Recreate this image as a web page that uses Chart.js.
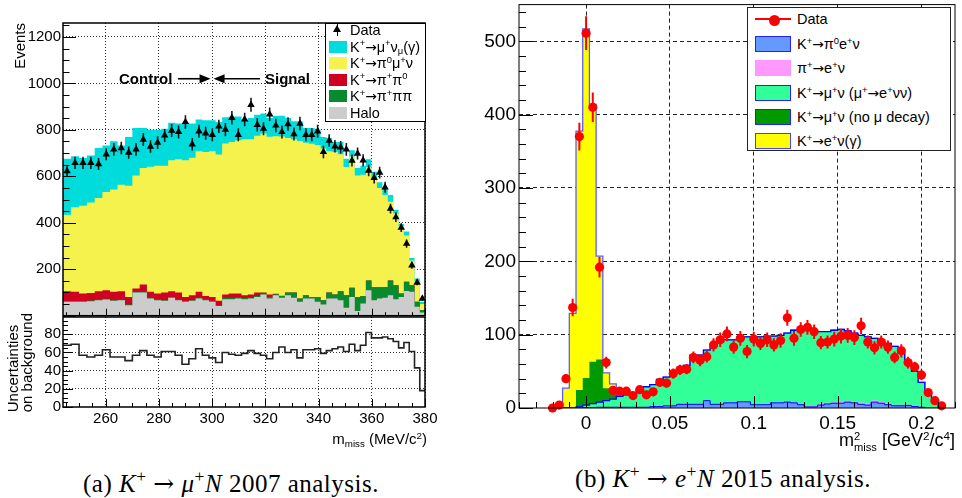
<!DOCTYPE html>
<html>
<head>
<meta charset="utf-8">
<title>Missing mass spectra: K+ to mu+ N (2007) and K+ to e+ N (2015)</title>
<script src="https://cdn.jsdelivr.net/npm/chart.js@4.4.1/dist/chart.umd.min.js"></script>
<style>
  body { margin: 0; width: 962px; height: 498px; position: relative; overflow: hidden; background: #fff;
         font-family: "Liberation Sans", Arial, sans-serif; color: #000; }
  canvas { position: absolute; }
  .txt { position: absolute; white-space: nowrap; line-height: 1; }
  .vert { writing-mode: vertical-rl; transform: rotate(180deg); }
  sup, sub { font-size: 0.65em; line-height: 0; position: relative; vertical-align: baseline; }
  sup { top: -0.55em; }
  sub { top: 0.3em; }
  .ar { font-family: "DejaVu Sans", sans-serif; font-size: 0.95em; }
  .box { position: absolute; background: #fff; box-sizing: border-box; }
  .sw { position: absolute; box-sizing: border-box; }
  .lab { position: absolute; white-space: nowrap; line-height: 1; font-size: 14.5px; transform: translateY(-50%); }
  .cap { position: absolute; white-space: nowrap; font-family: "Liberation Serif", "Times New Roman", serif;
         font-size: 25px; letter-spacing: 0.5px; transform: translate(-50%, -50%); line-height: 1; }
  .cap sup { font-size: 0.7em; }
  .cap .ar { font-family: "DejaVu Serif", serif; font-size: 1em; }
</style>
</head>
<body>
<canvas id="cTop" width="440" height="320" style="left:0;top:0"></canvas>
<canvas id="cLow" width="440" height="140" style="left:0;top:310px"></canvas>
<canvas id="cRight" width="482" height="440" style="left:480px;top:0"></canvas>

<!-- left panel texts -->
<div class="txt vert" style="left:12px;top:23px;font-size:15px">Events</div>
<div class="txt vert" style="left:6px;top:313px;font-size:15px;line-height:14px">Uncertainties<br>on background</div>
<div class="txt" style="right:535px;top:431px;font-size:15px">m<sub>miss</sub> (MeV/c<sup>2</sup>)</div>
<div class="txt" style="left:119px;top:71px;font-size:15px;font-weight:bold">Control</div>
<div class="txt" style="left:265px;top:71px;font-size:15px;font-weight:bold">Signal</div>

<!-- left legend -->
<div class="box" style="left:325px;top:23px;width:101px;height:99px;border:1px solid #000"></div>
<div class="sw" style="left:333px;top:25px;width:0;height:0;border-left:4px solid transparent;border-right:4px solid transparent;border-bottom:7px solid #000"></div>
<div class="sw" style="left:336.5px;top:24px;width:1.5px;height:12px;background:#000"></div>
<div class="lab" style="left:350px;top:30px">Data</div>
<div class="sw" style="left:329px;top:40.5px;width:18px;height:12px;background:#00dcdc"></div>
<div class="lab" style="left:350px;top:46.5px">K<sup>+</sup><span class="ar">→</span>μ<sup>+</sup>ν<sub>μ</sub>(γ)</div>
<div class="sw" style="left:329px;top:57px;width:18px;height:12px;background:#f5f24e"></div>
<div class="lab" style="left:350px;top:63px">K<sup>+</sup><span class="ar">→</span>π<sup>0</sup>μ<sup>+</sup>ν</div>
<div class="sw" style="left:329px;top:73.5px;width:18px;height:12px;background:#cf0020"></div>
<div class="lab" style="left:350px;top:79.5px">K<sup>+</sup><span class="ar">→</span>π<sup>+</sup>π<sup>0</sup></div>
<div class="sw" style="left:329px;top:90px;width:18px;height:12px;background:#0a8a2e"></div>
<div class="lab" style="left:350px;top:96px">K<sup>+</sup><span class="ar">→</span>π<sup>+</sup>ππ</div>
<div class="sw" style="left:329px;top:106.5px;width:18px;height:12px;background:#cccccc"></div>
<div class="lab" style="left:350px;top:112.5px">Halo</div>

<!-- right panel texts -->
<div class="txt" style="right:7px;top:431px;font-size:18px">m<span style="display:inline-block;vertical-align:-0.42em;font-size:0.62em;line-height:0.95;text-align:left">2<br>miss</span> [GeV<sup>2</sup>/c<sup>4</sup>]</div>

<!-- right legend -->
<div class="box" style="left:747px;top:7px;width:204px;height:144px;border:1px solid #222"></div>
<div class="sw" style="left:755px;top:18.3px;width:36px;height:2px;background:#ff0000"></div>
<div class="sw" style="left:768.5px;top:14.8px;width:11px;height:11px;border-radius:50%;background:#ff0000"></div>
<div class="lab" style="left:797px;top:19.3px">Data</div>
<div class="sw" style="left:755px;top:36px;width:36px;height:16px;background:#6699ff;border:1.5px solid #2222ff"></div>
<div class="lab" style="left:797px;top:44px">K<sup>+</sup><span class="ar">→</span>π<sup>0</sup>e<sup>+</sup>ν</div>
<div class="sw" style="left:755px;top:60.3px;width:36px;height:16px;background:#ff99ff;border:1px solid #ff99ff"></div>
<div class="lab" style="left:797px;top:68.3px">π<sup>+</sup><span class="ar">→</span>e<sup>+</sup>ν</div>
<div class="sw" style="left:755px;top:84.7px;width:36px;height:16px;background:#33ff99;border:1.5px solid #2222ff"></div>
<div class="lab" style="left:797px;top:92.7px">K<sup>+</sup><span class="ar">→</span>μ<sup>+</sup>ν (μ<sup>+</sup><span class="ar">→</span>e<sup>+</sup>νν)</div>
<div class="sw" style="left:755px;top:108.7px;width:36px;height:16px;background:#009900;border:1.5px solid #2222ff"></div>
<div class="lab" style="left:797px;top:116.7px">K<sup>+</sup><span class="ar">→</span>μ<sup>+</sup>ν (no μ decay)</div>
<div class="sw" style="left:755px;top:133px;width:36px;height:16px;background:#ffff00;border:1.5px solid #4444ff"></div>
<div class="lab" style="left:797px;top:141px">K<sup>+</sup><span class="ar">→</span>e<sup>+</sup>ν(γ)</div>

<!-- captions -->
<div class="cap" style="left:231px;top:483px">(a) <i>K</i><sup>+</sup> <span class="ar">→</span> <i>μ</i><sup>+</sup><i>N</i> 2007 analysis.</div>
<div class="cap" style="left:723px;top:478px">(b) <i>K</i><sup>+</sup> <span class="ar">→</span> <i>e</i><sup>+</sup><i>N</i> 2015 analysis.</div>

<script>
// ---- (a) K+ -> mu+ N, 2007: m_miss in MeV/c^2, 57 bins uniform in m^2 between 244 and 380
const massLo = 244, massHi = 380, nMassBins = 57;
const signalCut = 300;          // control | signal boundary
const arrowLevel = 1020;        // height of the control/signal arrows (events)

const dataL = [623, 658, 658, 658, 653, 695, 716, 722, 702, 716, 758, 728, 745, 776, 797, 791, 834, 738, 794, 785,
               779, 815, 801, 852, 779, 845, 908, 822, 805, 867, 819, 791, 825, 782, 827, 779, 779, 794, 705, 754,
               729, 725, 716, 668, 698, 669, 625, 593, 616, 553, 461, 424, 379, 310, 217, 143, 74];
const errL = [25, 26, 26, 26, 26, 26, 27, 27, 26, 27, 28, 27, 27, 28, 28, 28, 29, 27, 28, 28,
              28, 29, 28, 29, 28, 29, 30, 29, 28, 29, 29, 28, 29, 28, 29, 28, 28, 28, 27, 27,
              27, 27, 27, 26, 26, 26, 25, 24, 25, 24, 21, 21, 19, 18, 15, 12, 9];
const haloL = [60, 60, 60, 62, 67, 70, 64, 67, 45, 100, 100, 74, 67, 64, 77, 67, 60, 64, 74, 67,
               60, 42, 71, 71, 74, 71, 74, 81, 91, 74, 88, 77, 88, 77, 60, 74, 74, 60, 48, 74,
               74, 67, 34, 81, 20, 52, 110, 67, 74, 77, 88, 71, 81, 106, 103, 38, 14];
const k3piL = [3, 3, 3, 3, 3, 3, 3, 3, 3, 3, 3, 3, 3, 3, 3, 3, 3, 3, 3, 3,
               3, 3, 6, 6, 4, 6, 4, 4, 4, 6, 4, 8, 12, 23, 14, 14, 7, 21, 19, 26,
               17, 38, 54, 39, 60, 33, 41, 57, 50, 47, 63, 60, 15, 40, 28, 22, 10];
const k2piL = [42, 40, 33, 33, 35, 37, 36, 35, 33, 14, 31, 26, 26, 33, 25, 30, 18, 21, 26, 15,
               18, 19, 14, 19, 18, 11, 13, 15, 5, 11, 2, 1, 0, 0, 0, 0, 0, 0, 0, 0,
               0, 0, 0, 0, 0, 0, 0, 0, 0, 0, 0, 0, 0, 0, 0, 0, 0];
const kmu3L = [330, 364, 377, 389, 402, 423, 440, 459, 478, 487, 502, 538, 549, 545, 564, 573, 588, 592, 605, 620,
               627, 630, 650, 652, 659, 672, 669, 675, 684, 679, 678, 685, 665, 660, 678, 657, 659, 654, 653, 608,
               614, 590, 552, 565, 524, 522, 489, 461, 426, 396, 339, 309, 289, 199, 107, 88, 26];
const kmu2L = [241, 219, 206, 203, 215, 200, 208, 169, 210, 204, 172, 160, 156, 160, 162, 154, 158, 147, 137, 136,
               133, 140, 113, 110, 103, 85, 91, 90, 86, 81, 88, 90, 86, 77, 85, 63, 68, 67, 49, 57,
               43, 53, 36, 27, 32, 38, 33, 35, 25, 28, 30, 15, 10, 17, 10, 12, 10];
const uncL = [68, 69, 57, 55, 57, 63, 55, 55, 51, 57, 62, 57, 55, 61, 61, 57, 47, 53, 64, 57,
              54, 49, 60, 58, 57, 59, 62, 59, 57, 53, 60, 66, 60, 63, 54, 63, 63, 64, 59, 62,
              64, 66, 61, 69, 62, 68, 82, 76, 76, 77, 75, 72, 65, 71, 61, 43, 18];

// ---- (b) K+ -> e+ N, 2015: m^2_miss in GeV^2/c^4, bins of 0.004 centred on -0.020 ... 0.212
const m2First = -0.022, m2Width = 0.004, nM2Bins = 59;
const dataR = [0, 4, 40, 137, 370, 511, 410, 192, 62, 24, 23, 23, 17, 25, 18, 22, 35, 34, 47, 52,
               53, 69, 65, 70, 86, 93, 101, 83, 95, 77, 94, 88, 93, 86, 92, 123, 95, 107, 110, 104,
               89, 90, 94, 98, 99, 96, 112, 90, 82, 90, 83, 69, 78, 62, 56, 45, 21, 10, 3];
const errR = [0, 2, 6, 12, 19, 23, 20, 14, 8, 5, 5, 5, 4, 5, 4, 5, 6, 6, 7, 7,
              7, 8, 8, 8, 9, 10, 10, 9, 10, 9, 10, 9, 10, 9, 10, 11, 10, 10, 10, 10,
              9, 9, 10, 10, 10, 10, 11, 9, 9, 9, 9, 8, 9, 8, 7, 7, 5, 3, 2];
const ke3R = [0, 0, 0, 0, 0, 0.5, 0.5, 1, 1, 1, 1, 1, 1, 1, 1, 2, 2, 3, 3, 5,
              5, 5, 5, 10, 5, 5, 7, 7, 8.5, 8.5, 4.5, 4.5, 4.5, 7, 7, 8, 7, 4.5, 1.5, 1.5,
              4, 5.5, 6.5, 6.5, 8, 7, 5, 4, 8, 6.5, 4.5, 3, 3, 3.5, 2, 1, 0, 0, 0];
const pienuR = [0, 0, 0, 0, 0, 0, 0, 0, 0, 0, 0, 0, 0, 0, 0, 0, 0, 0, 0, 0,
                0, 0, 0, 0, 0, 0, 0, 0, 0, 0, 0, 0, 0, 0, 0, 1, 1, 1, 1, 1.5,
                1.5, 1.5, 1.5, 2, 2, 2, 2.5, 2.5, 2.5, 2, 2, 1.5, 1.5, 1, 1, 0.5, 0, 0, 0];
const kmuDecR = [0, 0, 0, 0, 1.5, 3.5, 5.5, 7, 9, 11, 15, 17, 19, 23, 28, 30, 37, 39, 46, 48,
                 53, 67, 67, 69, 79, 85, 86, 86, 88.5, 88.5, 91.5, 92.5, 93.5, 91, 92, 93, 98, 100.5, 103.5, 102,
                 98.5, 97, 98, 98.5, 95, 93, 91.5, 90.5, 84.5, 84.5, 81.5, 79.5, 70.5, 58.5, 47, 33.5, 20, 9, 2];
const kmuNoDecR = [0, 0, 0, 0, 23, 37, 57, 58, 17, 9, 0, 0, 0, 0, 0, 0, 0, 0, 0, 0,
                   0, 0, 0, 0, 0, 0, 0, 0, 0, 0, 0, 0, 0, 0, 0, 0, 0, 0, 0, 0,
                   0, 0, 0, 0, 0, 0, 0, 0, 0, 0, 0, 0, 0, 0, 0, 0, 0, 0, 0];
const kenuR = [0, 0, 27, 129, 353, 476, 351, 141, 21, 12, 0, 0, 0, 0, 0, 0, 0, 0, 0, 0,
               0, 0, 0, 0, 0, 0, 0, 0, 0, 0, 0, 0, 0, 0, 0, 0, 0, 0, 0, 0,
               0, 0, 0, 0, 0, 0, 0, 0, 0, 0, 0, 0, 0, 0, 0, 0, 0, 0, 0];

// ---- helpers
const edgesL = Array.from({length: nMassBins + 1},
  (_, k) => Math.sqrt(massLo * massLo + k * (massHi * massHi - massLo * massLo) / nMassBins));
const centersL = dataL.map((_, i) => (edgesL[i] + edgesL[i + 1]) / 2);
const edgesR = Array.from({length: nM2Bins + 1}, (_, k) => Math.round((m2First + k * m2Width) * 1e4) / 1e4);
const centersR = dataR.map((_, i) => (edgesR[i] + edgesR[i + 1]) / 2);

function histPts(edges, vals, closed) {
  const pts = closed ? [{x: edges[0], y: 0}] : [];
  vals.forEach((v, i) => pts.push({x: edges[i], y: v}));
  pts.push({x: edges[vals.length], y: vals[vals.length - 1]});
  if (closed) pts.push({x: edges[vals.length], y: 0});
  return pts;
}

// cumulative tops, bottom layer first
function stackUp(layers) {
  let run = layers[0].map(() => 0);
  return layers.map(l => (run = run.map((s, i) => s + l[i])));
}

function errBars(xs, vals, errs) {
  const pts = [];
  vals.forEach((v, i) => {
    pts.push({x: xs[i], y: v - errs[i]}, {x: xs[i], y: v + errs[i]}, {x: xs[i], y: null});
  });
  return pts;
}

function filled(data, color, order, line, lineWidth) {
  return {
    data, order, stepped: true, fill: 'origin', backgroundColor: color,
    borderColor: line || 'rgba(0,0,0,0)', borderWidth: line ? lineWidth : 0, pointRadius: 0
  };
}

// fixed axis sizes, and no extra room asked for by the end labels
function noPad(s) { s.paddingTop = 0; s.paddingBottom = 0; s.paddingLeft = 0; s.paddingRight = 0; }
const fixW = w => s => { s.width = w; noPad(s); };
const fixH = h => s => { s.height = h; noPad(s); };

const isMultiple = (v, step) => Math.abs(v / step - Math.round(v / step)) < 1e-6;

// ROOT style: ticks inside the frame, box round the pad
const rootAxes = {
  id: 'rootAxes',
  afterDatasetsDraw(chart, args, o) {
    const {ctx, chartArea: a, scales: {x, y}} = chart;
    ctx.save();
    ctx.strokeStyle = '#000';
    ctx.lineWidth = 1;
    ctx.beginPath();
    for (let i = 0; ; i++) {
      const v = o.xFrom + i * o.xMinor;
      if (v > x.max + 1e-9) break;
      const px = Math.round(x.getPixelForValue(v)) + 0.5;
      const len = isMultiple(v, o.xMajor) ? o.xLen : o.xLen / 2;
      ctx.moveTo(px, a.bottom);
      ctx.lineTo(px, a.bottom - len);
    }
    for (let i = 0; ; i++) {
      const v = o.yFrom + i * o.yMinor;
      if (v > y.max + 1e-9) break;
      const py = Math.round(y.getPixelForValue(v)) + 0.5;
      const len = isMultiple(v, o.yMajor) ? o.yLen : o.yLen / 2;
      ctx.moveTo(a.left, py);
      ctx.lineTo(a.left + len, py);
    }
    ctx.stroke();
    ctx.lineWidth = o.frame;
    ctx.strokeRect(a.left, a.top, a.width, a.height);
    ctx.restore();
  }
};

const cutArrows = {
  id: 'cutArrows',
  afterDatasetsDraw(chart) {
    const {ctx, scales: {x, y}} = chart;
    const xc = x.getPixelForValue(signalCut);
    const yy = y.getPixelForValue(arrowLevel);
    ctx.save();
    ctx.strokeStyle = '#000';
    ctx.fillStyle = '#000';
    ctx.lineWidth = 1.6;
    const arrow = (from, tip) => {
      const d = Math.sign(tip - from);
      ctx.beginPath();
      ctx.moveTo(from, yy);
      ctx.lineTo(tip - d * 8, yy);
      ctx.stroke();
      ctx.beginPath();
      ctx.moveTo(tip, yy);
      ctx.lineTo(tip - d * 11, yy - 4.5);
      ctx.lineTo(tip - d * 11, yy + 4.5);
      ctx.closePath();
      ctx.fill();
    };
    arrow(xc - 34, xc - 1.5);
    arrow(xc + 48, xc + 1.5);
    ctx.restore();
  }
};

Chart.defaults.font.family = '"Liberation Sans", Arial, sans-serif';
Chart.defaults.color = '#000';

const base = {
  responsive: false, animation: false, events: [], devicePixelRatio: 1,
  plugins: {legend: {display: false}, tooltip: {enabled: false}}
};
const noZero = c => (c.tick.value === 0 ? 'rgba(0,0,0,0)' : '#333');

// ---- (a) upper pad
const [cHalo, cK3pi, cK2pi, cKmu3, cKmu2] = stackUp([haloL, k3piL, k2piL, kmu3L, kmu2L]);
new Chart(document.getElementById('cTop'), {
  type: 'line',
  data: {
    datasets: [
      {data: dataL.map((v, i) => ({x: centersL[i], y: v})), order: 1, showLine: false, clip: false,
       pointStyle: 'triangle', pointRadius: 4.3, pointBackgroundColor: '#000', pointBorderColor: '#000', pointBorderWidth: 0},
      {data: errBars(centersL, dataL, errL), order: 2, borderColor: '#1a1a1a', borderWidth: 1.6, pointRadius: 0},
      filled(histPts(edgesL, cHalo, true), '#cccccc', 3),
      filled(histPts(edgesL, cK3pi, true), '#0a8a2e', 4),
      filled(histPts(edgesL, cK2pi, true), '#cf0020', 5),
      filled(histPts(edgesL, cKmu3, true), '#f5f24e', 6),
      filled(histPts(edgesL, cKmu2, true), '#00dcdc', 7)
    ]
  },
  options: {
    ...base,
    layout: {padding: {left: 0, right: 15, top: 23, bottom: 0}},
    scales: {
      x: {type: 'linear', min: massLo, max: massHi, afterFit: fixH(4),
          ticks: {display: false, stepSize: 20, includeBounds: false},
          grid: {color: '#333', drawTicks: false}, border: {display: false, dash: [1, 2]}},
      y: {min: 0, max: 1260, afterFit: fixW(63),
          ticks: {stepSize: 200, includeBounds: false, padding: 2, font: {size: 15},
                  callback: v => (v === 0 ? null : String(v))},
          grid: {color: '#333', drawTicks: false}, border: {display: false, dash: [1, 2]}}
    },
    plugins: {...base.plugins,
      rootAxes: {xFrom: 245, xMinor: 5, xMajor: 20, xLen: 7, yFrom: 0, yMinor: 50, yMajor: 200, yLen: 13, frame: 1.5}}
  },
  plugins: [rootAxes, cutArrows]
});

// ---- (a) lower pad
new Chart(document.getElementById('cLow'), {
  type: 'line',
  data: {
    datasets: [
      {data: histPts(edgesL, uncL, false), stepped: true, fill: false, borderColor: '#222', borderWidth: 1.6, pointRadius: 0}
    ]
  },
  options: {
    ...base,
    layout: {padding: {left: 0, right: 15, top: 7, bottom: 0}},
    scales: {
      x: {type: 'linear', min: massLo, max: massHi, afterFit: fixH(43),
          ticks: {stepSize: 20, includeBounds: false, padding: 3, font: {size: 15}, maxRotation: 0, autoSkip: false,
                  callback: v => String(v)},
          grid: {color: '#333', drawTicks: false}, border: {display: false, dash: [1, 2]}},
      y: {min: 0, max: 99, afterFit: fixW(63),
          ticks: {stepSize: 20, includeBounds: false, padding: 2, font: {size: 15}},
          grid: {color: noZero, drawTicks: false}, border: {display: false, dash: [1, 2]}}
    },
    plugins: {...base.plugins,
      rootAxes: {xFrom: 245, xMinor: 5, xMajor: 20, xLen: 8, yFrom: 0, yMinor: 5, yMajor: 20, yLen: 10, frame: 1.5}}
  },
  plugins: [rootAxes]
});

// ---- (b)
const [cKe3, cPienu, cKmuDec, cKmuNoDec, cKenu] = stackUp([ke3R, pienuR, kmuDecR, kmuNoDecR, kenuR]);
new Chart(document.getElementById('cRight'), {
  type: 'line',
  data: {
    datasets: [
      {data: dataR.map((v, i) => ({x: centersR[i], y: v})), order: 1, showLine: false, clip: false,
       pointStyle: 'circle', pointRadius: 4.6, pointBackgroundColor: '#ff0000', pointBorderColor: '#ff0000', pointBorderWidth: 0},
      {data: errBars(centersR, dataR, errR), order: 2, borderColor: '#ff0000', borderWidth: 2, pointRadius: 0},
      filled(histPts(edgesR, cKe3, true), '#6699ff', 3, '#0000ff', 1),
      filled(histPts(edgesR, cPienu, true), '#ff99ff', 4),
      filled(histPts(edgesR, cKmuDec, true), '#33ff99', 5, '#0000ff', 1.3),
      filled(histPts(edgesR, cKmuNoDec, true), '#009900', 6),
      filled(histPts(edgesR, cKenu, true), '#ffff00', 7, '#5c5cff', 1.3)
    ]
  },
  options: {
    ...base,
    layout: {padding: {left: 0, right: 7, top: 3, bottom: 0}},
    scales: {
      x: {type: 'linear', min: -0.04, max: 0.22, afterFit: fixH(32),
          ticks: {stepSize: 0.05, includeBounds: false, padding: 4, font: {size: 19}, maxRotation: 0, autoSkip: false,
                  callback: v => String(v)},
          grid: {color: '#222', drawTicks: false}, border: {display: false, dash: [4, 3]}},
      y: {min: 0, max: 550, afterFit: fixW(39),
          ticks: {stepSize: 100, includeBounds: false, padding: 3, font: {size: 19}},
          grid: {color: c => (c.tick.value === 0 ? 'rgba(0,0,0,0)' : '#222'), drawTicks: false},
          border: {display: false, dash: [4, 3]}}
    },
    plugins: {...base.plugins,
      rootAxes: {xFrom: -0.04, xMinor: 0.01, xMajor: 0.05, xLen: 12, yFrom: 0, yMinor: 20, yMajor: 100, yLen: 14, frame: 1}}
  },
  plugins: [rootAxes]
});
</script>
</body>
</html>
